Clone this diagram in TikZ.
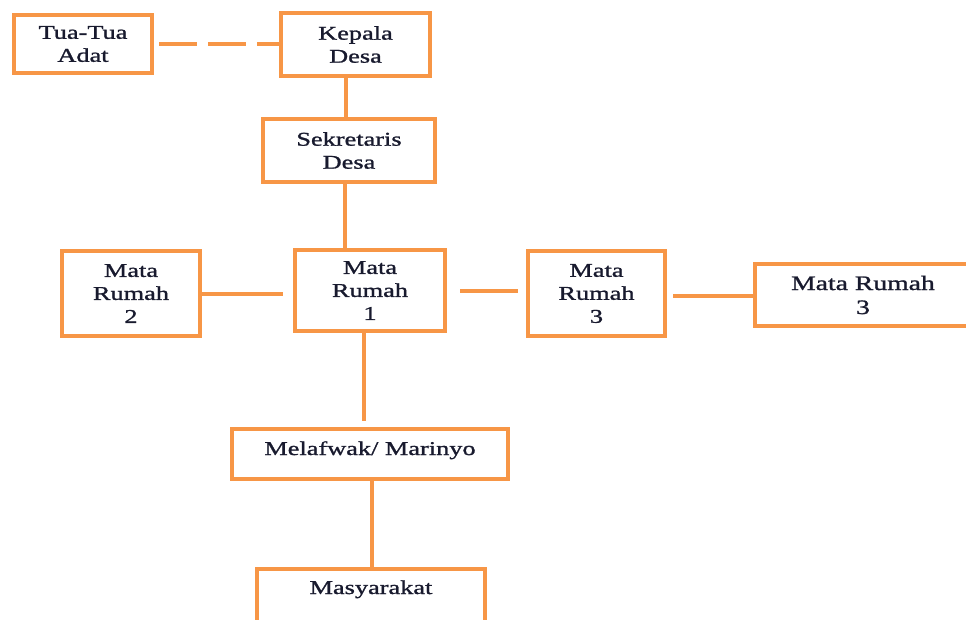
\documentclass[tikz,border=0pt]{standalone}
\usepackage{fontspec}
\setmainfont{Liberation Serif}[FakeStretch=1.35,FakeBold=1.2]
\usetikzlibrary{positioning}
\definecolor{boxorange}{RGB}{247,150,70}
\definecolor{textnavy}{RGB}{24,26,46}

\begin{document}
\begin{tikzpicture}[x=1pt,y=-1pt,
  every node/.style={draw=boxorange,line width=4pt,fill=white,align=center,inner sep=0pt,
    text=textnavy,font=\fontsize{19.5}{23}\selectfont},
  link/.style={draw=boxorange,line width=4pt}]

\clip (0,0) rectangle (966,619);

\node[minimum width=138,minimum height=58](tua) at (83,44) {Tua-Tua\\Adat};
\node[minimum width=149,minimum height=63](kepala) at (355.5,44.5) {Kepala\\Desa};
\node[minimum width=172,minimum height=63](sekretaris) at (349,150.5) {Sekretaris\\Desa};
\node[minimum width=138,minimum height=85](mr2) at (131,293.5) {Mata\\Rumah\\2};
\node[minimum width=150,minimum height=81](mr1) at (370,290.5) {Mata\\Rumah\\1};
\node[minimum width=137,minimum height=85](mr3a) at (596.5,293.5) {Mata\\Rumah\\3};
\node[minimum width=216,minimum height=62,font=\fontsize{20.5}{24}\selectfont](mr3b) at (863,295) {Mata Rumah\\3};
\node[minimum width=276,text height=26,text depth=24,anchor=north](melafwak) at (370,427) {Melafwak/ Marinyo};
\node[minimum width=228,text height=25,text depth=40,anchor=north](masyarakat) at (371,567) {Masyarakat};

% garis hubungan
\draw[link,dash pattern=on 38pt off 11pt,shorten <=5pt] (tua.east) -- (tua.east -| kepala.west);
\draw[link] ([xshift=-3pt]sekretaris.north) -- ([xshift=-3pt]sekretaris.north |- kepala.south);
\draw[link] ([xshift=-4pt]sekretaris.south) -- ([xshift=-4pt]sekretaris.south |- mr1.north);
\draw[link,shorten >=10pt] (mr2.east) -- (mr2.east -| mr1.west);
\draw[link,shorten <=13pt,shorten >=8pt] (mr1.east) -- (mr1.east -| mr3a.west);
\draw[link,shorten <=6pt] ([yshift=-2pt]mr3a.east) -- ([yshift=-2pt]mr3a.east -| mr3b.west);
\draw[link,shorten >=6pt] ([xshift=-6pt]mr1.south) -- ([xshift=-6pt]mr1.south |- melafwak.north);
\draw[link] ([xshift=2pt]melafwak.south) -- ([xshift=2pt]melafwak.south |- masyarakat.north);

\end{tikzpicture}
\end{document}
